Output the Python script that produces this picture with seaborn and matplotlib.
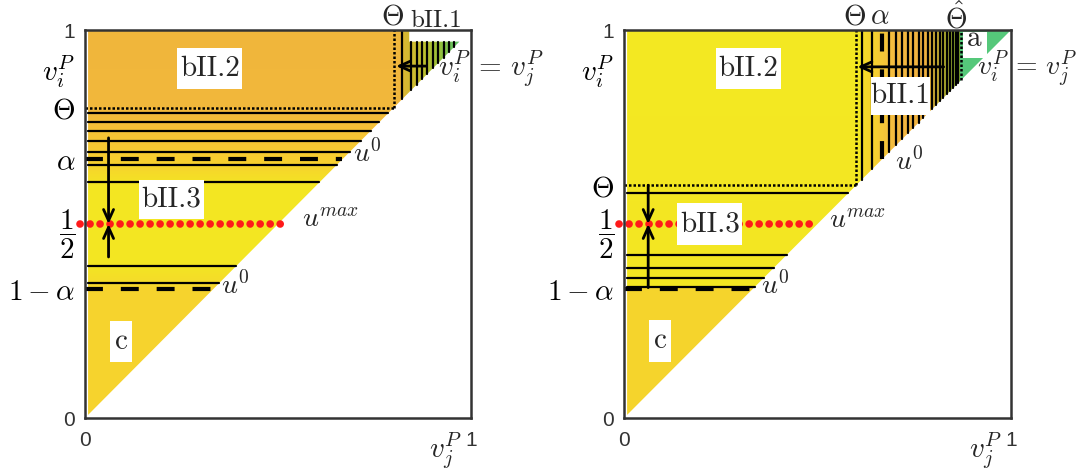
import numpy as np
import pandas as pd
import matplotlib
matplotlib.use("Agg")
import matplotlib.pyplot as plt
from matplotlib.colors import LinearSegmentedColormap
from matplotlib.patches import Polygon, Rectangle
import seaborn as sns

sns.set_theme(style="white")
plt.rcParams["font.family"] = ["DejaVu Sans"]
plt.rcParams["mathtext.fontset"] = "cm"

# levels (unit square, v_j^P on x, v_i^P on y)
alpha = 0.667
half = 0.5
theta_left = 0.80
theta_right = 0.60
theta_hat = 0.87
diag_lo = 0.008
diag_top_left = 0.97
white_top_left = 0.84

left_hlines = [0.785, 0.762, 0.740, 0.715, 0.686, 0.652, 0.607, 0.392, 0.347]
left_vline_full = [0.822]
left_vlines_hatch = [0.845, 0.859, 0.873, 0.887, 0.901, 0.915, 0.929, 0.943, 0.957]
right_hlines = [0.580, 0.420, 0.387, 0.362, 0.338]
right_vlines = [0.614, 0.641, 0.686, 0.703, 0.719, 0.734, 0.748, 0.761, 0.773,
                0.785, 0.796, 0.806, 0.816, 0.825, 0.834, 0.842, 0.850, 0.857, 0.864]

# region colours: bands along y, and along x in the upper right corner
left_y_stops = [(0.0, "#F6D32D"), (0.335, "#F6D32D"), (0.35, "#F5DC29"), (0.40, "#F3E622"),
                (0.60, "#F3E622"), (0.667, "#F8CE30"), (0.80, "#F2B83B"), (1.0, "#F0B63C")]
left_x_stops = [(0.0, "#F0B63C"), (0.822, "#F0B63C"), (0.823, "#DBB633"), (0.845, "#D2BA30"),
                (0.88, "#BDC030"), (0.92, "#98C03A"), (0.95, "#6EC25A"), (1.0, "#50C878")]
right_y_stops = [(0.0, "#F5D42C"), (0.334, "#F5D42C"), (0.336, "#F3E622"), (1.0, "#F3E922")]
right_x_stops = [(0.0, "#F3E922"), (0.614, "#F3E922"), (0.615, "#F5DC28"), (0.64, "#F5D42C"),
                 (0.667, "#F5C838"), (0.70, "#F4BA40"), (0.78, "#F0B040"), (0.82, "#BDB030"),
                 (0.869, "#80A830"), (0.870, "#55C87A"), (1.0, "#55C87A")]

left_boxes = [("bII.2", 0.239, 0.847, 0.169, 0.106), ("bII.3", 0.139, 0.514, 0.169, 0.099),
              ("c", 0.066, 0.144, 0.056, 0.106)]
right_boxes = [("bII.2", 0.238, 0.847, 0.168, 0.106), ("bII.3", 0.137, 0.445, 0.169, 0.108),
               ("c", 0.065, 0.144, 0.056, 0.108), ("bII.1", 0.638, 0.781, 0.152, 0.097),
               ("a", 0.875, 0.928, 0.062, 0.068)]

FS = 21
SPINE = "#333333"
ROMAN = "cmr10"
DIAG_LABEL = r"$v_i^P\,=\,v_j^P$"


def region_image(ax, y_stops, x_stops, corner, outline):
    ycm = LinearSegmentedColormap.from_list("ys", y_stops)
    xcm = LinearSegmentedColormap.from_list("xs", x_stops)
    g = (np.arange(700) + 0.5) / 700
    X, Y = np.meshgrid(g, g)
    img = ycm(Y)
    m = (X > corner) & (Y > corner)
    img[m] = xcm(X[m])
    im = ax.imshow(img, extent=(0, 1, 0, 1), origin="lower", interpolation="nearest",
                   aspect="auto", zorder=0)
    poly = Polygon(outline, closed=True, facecolor="none", edgecolor="none")
    ax.add_patch(poly)
    im.set_clip_path(poly)


def segments(ax, segs):
    rows = []
    for k, ((x0, y0), (x1, y1)) in enumerate(segs):
        rows.append((k, x0, y0))
        rows.append((k, x1, y1))
    df = pd.DataFrame(rows, columns=["seg", "x", "y"])
    sns.lineplot(data=df, x="x", y="y", units="seg", estimator=None, sort=False,
                 color="black", lw=1.6, ax=ax, zorder=2)


def dotted(ax, xs, ys):
    ax.plot(xs, ys, color="black", lw=1.8, ls=(0, (1, 0.8)), zorder=2)


def dashed(ax, xs, ys):
    ax.plot(xs, ys, color="black", lw=3.0, ls=(0, (4.3, 4.3)), dash_capstyle="butt", zorder=2)


def red_umax(ax, x1):
    ax.plot([-0.012, x1], [half, half], color="#FF1A1A", lw=5.5, ls=(0, (0.01, 1.3)),
            dash_capstyle="round", clip_on=False, zorder=3)


def arrow(ax, start, end):
    ax.annotate("", xy=end, xytext=start,
                arrowprops=dict(arrowstyle="->,head_length=0.4,head_width=0.18", color="black",
                                lw=2, shrinkA=0, shrinkB=0, mutation_scale=20), zorder=4)


def boxes(ax, items):
    for name, x0, y0, w, h in items:
        ax.add_patch(Rectangle((x0, y0), w, h, facecolor="white", edgecolor="none", zorder=5))
        yc = y0 + h / 2 + (0.014 if name == "a" else 0)
        ax.text(x0 + w / 2, yc, name, ha="center", va="center", family=ROMAN,
                fontsize=FS, zorder=6)


def frame(ax, yt, ylabels):
    ax.set_xlim(0, 1)
    ax.set_ylim(0, 1)
    ax.set_xticks([0, 1])
    ax.set_xticklabels(["0", "1"])
    ax.set_yticks(yt)
    ax.set_yticklabels(ylabels)
    ax.tick_params(length=0)
    ax.tick_params(axis="x", pad=9)
    ax.tick_params(axis="y", pad=7)
    for t in ax.get_xticklabels():
        t.set_fontsize(15)
        t.set_family("Liberation Sans")
        t.set_color(SPINE)
    for t, lab in zip(ax.get_yticklabels(), ylabels):
        if lab in ("0", "1"):
            t.set_fontsize(15)
            t.set_family("Liberation Sans")
            t.set_color(SPINE)
        else:
            t.set_fontsize(FS)
            t.set_color("black")
    for s in ax.spines.values():
        s.set_visible(True)
        s.set_color(SPINE)
        s.set_linewidth(1.8)
        s.set_zorder(7)
    ax.set_xlabel("")
    ax.set_ylabel("")
    ax.text(0.935, -0.085, r"$v_j^P$", ha="center", va="center", fontsize=FS, clip_on=False)


fig = plt.figure(figsize=(10.83, 4.72), dpi=100)
axL = fig.add_axes([85 / 1083, 54 / 472, 386 / 1083, 388 / 472])
axR = fig.add_axes([624 / 1083, 54 / 472, 387 / 1083, 388 / 472])

# ---------------- left panel ----------------
ax = axL
region_image(ax, left_y_stops, left_x_stops, theta_left,
             [(diag_lo, diag_lo), (diag_top_left, diag_top_left), (white_top_left, diag_top_left),
              (white_top_left, 1.0), (diag_lo, 1.0)])
segs = [((diag_lo, y), (y, y)) for y in left_hlines]
segs += [((x, 1.0), (x, x)) for x in left_vline_full]
segs += [((x, diag_top_left), (x, x)) for x in left_vlines_hatch]
segments(ax, segs)
dotted(ax, [0, theta_left], [theta_left, theta_left])
dotted(ax, [theta_left, theta_left], [theta_left, 1.0])
dashed(ax, [0, alpha], [alpha, alpha])
dashed(ax, [0, 1 - alpha], [1 - alpha, 1 - alpha])
red_umax(ax, 0.507)
arrow(ax, (0.061, 0.722), (0.061, half))
arrow(ax, (0.061, 0.415), (0.061, half))
arrow(ax, (0.885, 0.907), (0.806, 0.907))
boxes(ax, left_boxes)
ax.text(0.694, 0.682, r"$u^0$", ha="left", va="center", fontsize=20, zorder=6)
ax.text(0.561, 0.512, r"$u^{max}$", ha="left", va="center", fontsize=20, zorder=6)
ax.text(0.352, 0.342, r"$u^0$", ha="left", va="center", fontsize=20, zorder=6)
ax.text(0.914, 0.901, DIAG_LABEL, ha="left", va="center", fontsize=FS, zorder=6,
        clip_on=False)
ax.text(0.796, 1.015, r"$\Theta$", ha="center", va="baseline", fontsize=FS)
ax.text(0.91, 1.007, "bII.1", ha="center", va="baseline", family=ROMAN, fontsize=18)
frame(ax, [0, 1 - alpha, half, alpha, theta_left, 0.905, 1],
      ["0", r"$1-\alpha$", r"$\dfrac{1}{2}$", r"$\alpha$", r"$\Theta$", r"$v_i^P$", "1"])

# ---------------- right panel ----------------
ax = axR
region_image(ax, right_y_stops, right_x_stops, theta_right,
             [(diag_lo, diag_lo), (1.0, 1.0), (diag_lo, 1.0)])
segs = [((diag_lo, y), (y, y)) for y in right_hlines]
segs += [((x, 1.0), (x, x)) for x in right_vlines]
segments(ax, segs)
dotted(ax, [0, theta_right], [theta_right, theta_right])
dotted(ax, [theta_right, theta_right], [theta_right, 1.0])
dotted(ax, [theta_hat, theta_hat], [theta_hat, 1.0])
dashed(ax, [0, 1 - alpha], [1 - alpha, 1 - alpha])
dashed(ax, [alpha, alpha], [alpha, 1.0])
red_umax(ax, 0.504)
arrow(ax, (0.0625, theta_right), (0.0625, half))
arrow(ax, (0.0625, 0.336), (0.0625, half))
arrow(ax, (0.826, 0.905), (0.603, 0.905))
boxes(ax, right_boxes)
ax.text(0.701, 0.660, r"$u^0$", ha="left", va="center", fontsize=20, zorder=6)
ax.text(0.531, 0.510, r"$u^{max}$", ha="left", va="center", fontsize=20, zorder=6)
ax.text(0.353, 0.342, r"$u^0$", ha="left", va="center", fontsize=20, zorder=6)
ax.text(0.912, 0.900, DIAG_LABEL, ha="left", va="center", fontsize=FS - 1, zorder=6,
        clip_on=False)
ax.text(0.596, 1.015, r"$\Theta$", ha="center", va="baseline", fontsize=FS)
ax.text(0.661, 1.015, r"$\alpha$", ha="center", va="baseline", fontsize=FS)
ax.text(0.857, 1.004, r"$\hat{\Theta}$", ha="center", va="baseline", fontsize=FS - 1)
frame(ax, [0, 1 - alpha, half, theta_right, 0.905, 1],
      ["0", r"$1-\alpha$", r"$\dfrac{1}{2}$", r"$\Theta$", r"$v_i^P$", "1"])

fig.savefig("out.png", dpi=100)
